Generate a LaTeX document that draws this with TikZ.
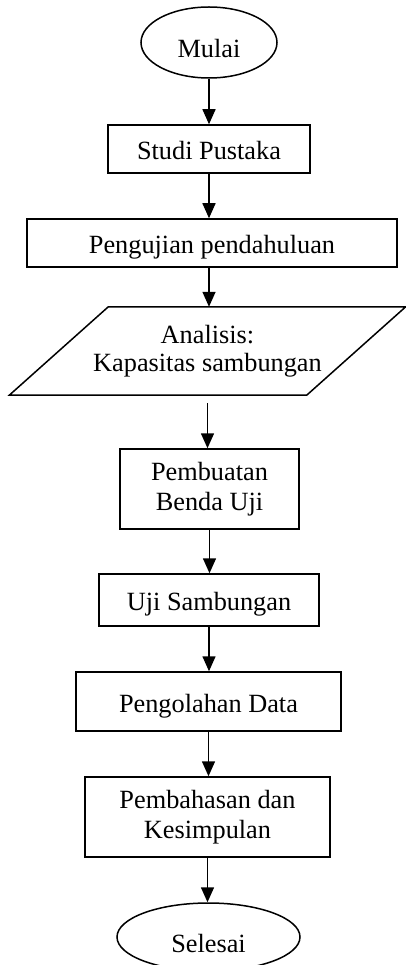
\documentclass[tikz,border=0pt]{standalone}
\usepackage{fontspec}
\setmainfont{Liberation Serif}
\usetikzlibrary{shapes.geometric}
\usetikzlibrary{arrows.meta}

\begin{document}
\begin{tikzpicture}[x=1pt,y=1pt,yscale=-1,xscale=1,
  box/.style={draw,line width=1.5pt,rectangle,inner sep=0pt,align=center,font=\fontsize{26.3}{29.5}\selectfont},
  oneline/.style={text height=21pt,text depth=0pt},
  term/.style={draw,line width=1.5pt,ellipse,inner sep=0pt,font=\fontsize{26.3}{29.5}\selectfont,text height=30pt,text depth=0pt},
  flow/.style={line width=1.5pt,-{Triangle[length=15pt,width=13pt]}}]
\useasboundingbox (0,0) rectangle (406,965);

%Shape: Ellipse [id:mulai]
\node [term,minimum width=136pt,minimum height=71pt] (mulai) at (209,42.5) {Mulai};
%Shape: Rectangle [id:studi]
\node [box,oneline,minimum width=202pt,minimum height=48pt] (studi) at (209,149) {Studi Pustaka};
%Shape: Rectangle [id:uji_awal]
\node [box,oneline,minimum width=370pt,minimum height=48pt] (uji_awal) at (212,243) {Pengujian pendahuluan};
%Shape: Parallelogram [id:analisis]
\node [inner sep=0pt,align=center,font=\fontsize{26.3}{28}\selectfont,minimum width=297pt,minimum height=88pt] (analisis) at (207.5,351) {Analisis:\\Kapasitas sambungan};
\draw [line width=1.5pt] ([xshift=49.5pt]analisis.north west) -- ([xshift=49.5pt]analisis.north east) -- ([xshift=-49.5pt]analisis.south east) -- ([xshift=-49.5pt]analisis.south west) -- cycle ;
%Shape: Rectangle [id:benda]
\node [box,minimum width=179pt,minimum height=80pt] (benda) at (209.5,489) {Pembuatan\\Benda Uji};
%Shape: Rectangle [id:uji_sambung]
\node [box,oneline,minimum width=220pt,minimum height=52pt] (uji_sambung) at (209,600) {Uji Sambungan};
%Shape: Rectangle [id:olah]
\node [box,oneline,minimum width=265pt,minimum height=59pt] (olah) at (208.5,701.5) {Pengolahan Data};
%Shape: Rectangle [id:bahas]
\node [box,minimum width=245pt,minimum height=80pt] (bahas) at (207.5,817) {Pembahasan dan\\Kesimpulan};
%Shape: Ellipse [id:selesai]
\node [term,minimum width=183pt,minimum height=68pt] (selesai) at (208.5,937) {Selesai};

%Straight Lines
\draw [flow] (mulai.south) -- (mulai.south |- studi.north) ;
\draw [flow] (studi.south) -- (studi.south |- uji_awal.north) ;
\draw [flow] (studi.south |- uji_awal.south) -- (studi.south |- analisis.north) ;
\draw [flow,shorten <=8pt] (analisis.south) -- (analisis.south |- benda.north) ;
\draw [flow] (benda.south) -- (benda.south |- uji_sambung.north) ;
\draw [flow] (uji_sambung.south) -- (uji_sambung.south |- olah.north) ;
\draw [flow] (olah.south) -- (olah.south |- bahas.north) ;
\draw [flow] (bahas.south) -- (bahas.south |- selesai.north) ;

\end{tikzpicture}
\end{document}
